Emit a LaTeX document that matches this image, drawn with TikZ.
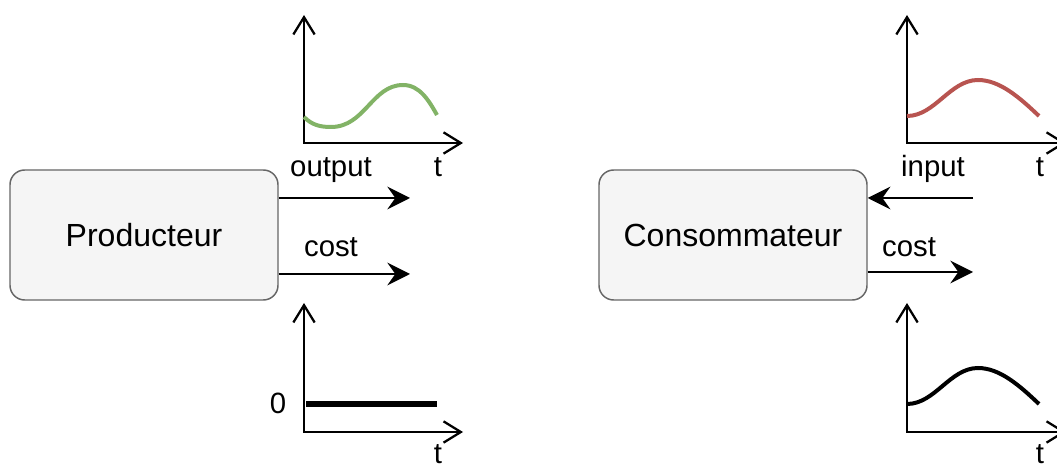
\documentclass[tikz,border=0pt]{standalone}
\usepackage{fontspec}
\setmainfont{Liberation Sans}
\usetikzlibrary{arrows.meta}
\definecolor{boxfill}{HTML}{F5F5F5}
\definecolor{boxline}{HTML}{666666}
\definecolor{outgreen}{HTML}{82B366}
\definecolor{inred}{HTML}{B85450}

\begin{document}
\begin{tikzpicture}[x=0.75pt, y=-0.75pt,
        agent/.style={draw=boxline, fill=boxfill, line width=1.1pt, rounded corners=11pt,
            minimum width=201pt, minimum height=97.5pt, font=\fontsize{24}{28}\selectfont},
        flow/.style={-{Stealth[length=17pt, width=17pt, inset=6pt]}, line width=1.6pt},
        axis/.style={{Straight Barb[length=13pt, width=16pt]}-{Straight Barb[length=13pt, width=16pt]}, line width=1.7pt},
        lbl/.style={font=\fontsize{22}{26}\selectfont, anchor=base, inner sep=0pt},
        signal/.style={line width=3pt}]
            \useasboundingbox (0,0) rectangle (1057,466);

            % boxes
            \node[agent] (prod) at (144,235) {Producteur};
            \node[agent] (cons) at (733,235) {Consommateur};

            % connectors
            \coordinate (prodout) at (410,198);
            \coordinate (prodcost) at (410,274);
            \coordinate (consin) at (973,198);
            \coordinate (conscost) at (973,272);
            \draw[flow] (prodout -| prod.east) -- (prodout);
            \draw[flow] (prodcost -| prod.east) -- (prodcost);
            \draw[flow] (consin) -- (consin -| cons.east);
            \draw[flow] (conscost -| cons.east) -- (conscost);

            \node[lbl] (outlbl) at (331,177) {output};
            \node[lbl] (costlbl) at (331,257) {cost};
            \node[lbl] (inlbl) at (933,177) {input};
            \node[lbl] (costlblb) at (909,257) {cost};

            % axes
            \draw[axis] (304,15) |- (463,143);
            \draw[axis] (304,303) |- (463,432);
            \draw[axis] (907,15) |- (1066,143);
            \draw[axis] (907,303) |- (1066,432);

            \node[lbl] (tA) at (438,177) {t};
            \node[lbl] (tB) at (438,464) {t};
            \node[lbl] (tC) at (1040,177) {t};
            \node[lbl] (tD) at (1040,464) {t};
            \node[lbl] (zero) at (278,414) {0};

            % signals
            \draw[signal, outgreen] (304,117) .. controls (312,125) and (320,127) .. (331,127)
                .. controls (365,127) and (372,85) .. (403,85)
                .. controls (420,85) and (429,101) .. (437,115);
            \draw[signal, black, line width=3.8pt] (306,404) -- (437,404);
            \draw[signal, inred] (907,116) .. controls (935,116) and (950,80) .. (978,80)
                .. controls (1000,80) and (1020,98) .. (1039,116);
            \draw[signal, black] (907,404) .. controls (935,404) and (950,368) .. (978,368)
                .. controls (1000,368) and (1020,386) .. (1039,404);
        \end{tikzpicture}
\end{document}
